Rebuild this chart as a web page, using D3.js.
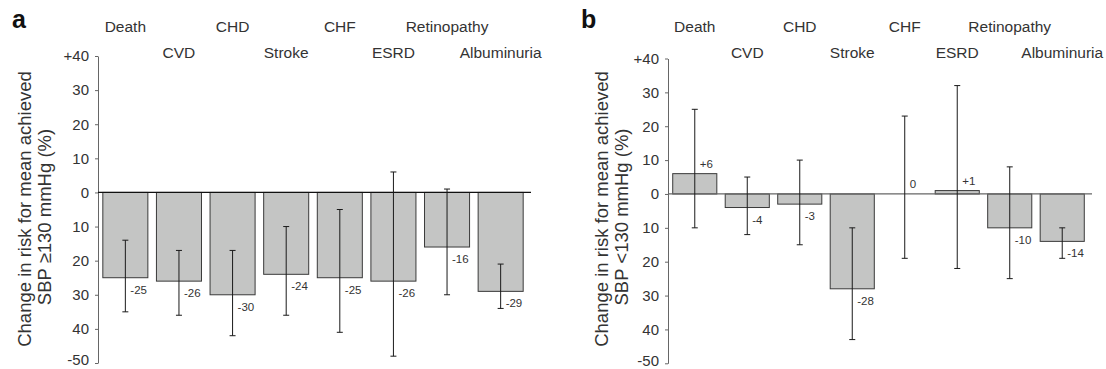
<!DOCTYPE html>
<html>
<head>
<meta charset="utf-8">
<script src="https://cdn.jsdelivr.net/npm/d3@7"></script>
<style>
  body { margin: 0; background: #fff; }
  svg { font-family: Arial, "Liberation Sans", sans-serif; }
</style>
</head>
<body>
<svg width="1106" height="369"></svg>
<script>
// outcomes, in drawing order
const categories = ["Death", "CVD", "CHD", "Stroke", "CHF", "ESRD", "Retinopathy", "Albuminuria"];

// panel a: achieved SBP >=130 mmHg
const aValues = [-25, -26, -30, -24, -25, -26, -16, -29];
const aLow    = [-35, -36, -42, -36, -41, -48, -30, -34];
const aHigh   = [-14, -17, -17, -10,  -5,   6,   1, -21];

// panel b: achieved SBP <130 mmHg
const bValues = [  6,  -4,  -3, -28,   0,   1, -10, -14];
const bLow    = [-10, -12, -15, -43, -19, -22, -25, -19];
const bHigh   = [ 25,   5,  10, -10,  23,  32,   8, -10];

const tickValues = [40, 30, 20, 10, 0, -10, -20, -30, -40, -50];
const tickLabels = ["+40", "30", "20", "10", "0", "10", "20", "30", "40", "-50"];

const svg = d3.select("svg");
const textColor = "#333";

function panel(opts) {
  const { letter, values, low, high, axisX, xEnd, yTop, yBot, title2, titleX, zeroColor } = opts;

  const x = d3.scaleBand()
    .domain(categories)
    .range([axisX, xEnd])
    .paddingInner(0.16)
    .paddingOuter(0.09);

  const y = d3.scaleLinear()
    .domain([-50, 40])
    .range([yBot, yTop]);

  const g = svg.append("g");

  // panel letter
  g.append("text")
    .attr("x", letter == "a" ? 12 : 581)
    .attr("y", 28)
    .attr("fill", "#111")
    .style("font-size", "25px")
    .style("font-weight", "bold")
    .text(letter);

  // y axis
  const axis = g.append("g")
    .attr("transform", `translate(${axisX},0)`)
    .call(d3.axisLeft(y)
      .tickValues(tickValues)
      .tickFormat((d, i) => tickLabels[i])
      .tickSize(3)
      .tickSizeOuter(0)
      .tickPadding(6));
  axis.select(".domain").attr("stroke", "#666");
  axis.selectAll(".tick line").attr("stroke", "#666");
  axis.selectAll(".tick text")
    .attr("fill", textColor)
    .attr("dy", (d, i) => i == tickValues.length - 1 ? "0.12em" : "0.32em")
    .style("font-size", "15px")
    .style("font-family", "Arial, 'Liberation Sans', sans-serif");

  // axis title
  const titleLines = ["Change in risk for mean achieved", title2];
  titleLines.forEach((t, i) => {
    g.append("text")
      .attr("transform", `translate(${titleX + i * 20},${i == 0 ? 209 : 217}) rotate(-90)`)
      .attr("text-anchor", "middle")
      .attr("dy", "0.35em")
      .attr("fill", textColor)
      .style("font-size", "18.5px")
      .text(t);
  });

  // category names, staggered in two rows
  g.selectAll(".cat")
    .data(categories)
    .enter()
    .append("text")
    .attr("x", d => x(d) + x.bandwidth() / 2)
    .attr("y", (d, i) => i % 2 == 0 ? 31.5 : 58)
    .attr("text-anchor", "middle")
    .attr("fill", textColor)
    .style("font-size", "15.5px")
    .text(d => d);

  // bars
  g.selectAll(".bar")
    .data(values)
    .enter()
    .append("rect")
    .attr("x", (d, i) => x(categories[i]))
    .attr("width", x.bandwidth())
    .attr("y", d => y(Math.max(d, 0)))
    .attr("height", d => Math.abs(y(d) - y(0)))
    .style("fill", "#c4c5c4")
    .style("stroke", "#3a3a3a")
    .style("stroke-width", "1px");

  // zero line
  g.append("line")
    .attr("x1", axisX)
    .attr("x2", xEnd + 3)
    .attr("y1", y(0))
    .attr("y2", y(0))
    .style("stroke", zeroColor)
    .style("stroke-width", "1.2px");

  // error bars
  const eb = g.selectAll(".err")
    .data(values)
    .enter()
    .append("g")
    .attr("transform", (d, i) => `translate(${x(categories[i]) + x.bandwidth() / 2},0)`)
    .style("stroke", "#1a1a1a")
    .style("stroke-width", "1px");
  eb.append("line")
    .attr("y1", (d, i) => y(low[i]))
    .attr("y2", (d, i) => y(high[i]));
  eb.append("line")
    .attr("x1", -3).attr("x2", 3)
    .attr("y1", (d, i) => y(low[i]))
    .attr("y2", (d, i) => y(low[i]));
  eb.append("line")
    .attr("x1", -3).attr("x2", 3)
    .attr("y1", (d, i) => y(high[i]))
    .attr("y2", (d, i) => y(high[i]));

  // value labels
  g.selectAll(".val")
    .data(values)
    .enter()
    .append("text")
    .attr("x", (d, i) => x(categories[i]) + x.bandwidth() / 2 + 5)
    .attr("y", d => d < 0 ? y(d) + 12 : y(d) - 10)
    .attr("dy", "0.35em")
    .attr("fill", textColor)
    .style("font-size", "11.5px")
    .text(d => d > 0 ? "+" + d : String(d));
}

panel({
  letter: "a", values: aValues, low: aLow, high: aHigh,
  axisX: 98, xEnd: 528, yTop: 56, yBot: 363,
  title2: "SBP \u2265130 mmHg (%)", titleX: 25, zeroColor: "#111"
});

panel({
  letter: "b", values: bValues, low: bLow, high: bHigh,
  axisX: 668, xEnd: 1089, yTop: 58.5, yBot: 363.3,
  title2: "SBP <130 mmHg (%)", titleX: 602, zeroColor: "#666"
});
</script>
</body>
</html>
